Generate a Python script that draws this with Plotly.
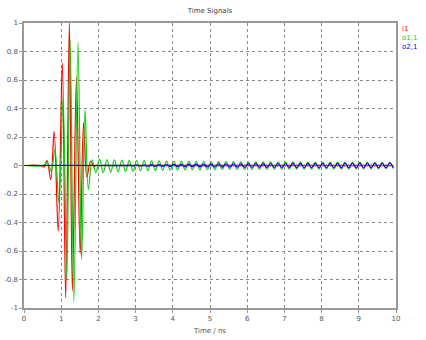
import plotly.graph_objects as go

# ---- data ----
series_names = ["i1", "o1,1", "o2,1"]
series_colors = ["#ff0000", "#11cc11", "#0000ff"]

# pulse region: times (ns) and peak values
red_pulse_t = [0.0, 0.43, 0.54, 0.62, 0.72, 0.81, 0.92, 1.03, 1.12, 1.22, 1.30, 1.41, 1.51, 1.60, 1.69, 1.79, 1.88]
red_pulse_v = [0.0, 0.0, -0.01, 0.035, -0.10, 0.24, -0.46, 0.72, -0.93, 1.00, -0.88, 0.62, -0.62, 0.30, -0.08, 0.03, -0.01]

green_pulse_t = [0.0, 0.52, 0.63, 0.73, 0.83, 0.94, 1.05, 1.15, 1.24, 1.34, 1.45, 1.55, 1.64, 1.73, 1.83]
green_pulse_v = [0.0, 0.0, 0.02, -0.04, 0.11, -0.26, 0.47, -0.80, 0.88, -0.96, 0.87, -0.66, 0.39, -0.17, 0.04]

blue_pulse_t = [0.0, 1.83]
blue_pulse_v = [0.0, 0.0]

# ringing tail: times (ns) shared by the three signals
tail_t = [1.93, 2.03, 2.13, 2.23, 2.33, 2.43, 2.53, 2.63, 2.73, 2.83,
          2.93, 3.03, 3.13, 3.23, 3.33, 3.43, 3.53, 3.63, 3.73, 3.83,
          3.93, 4.03, 4.13, 4.23, 4.33, 4.43, 4.53, 4.63, 4.73, 4.83,
          4.93, 5.03, 5.13, 5.23, 5.33, 5.43, 5.53, 5.63, 5.73, 5.83,
          5.93, 6.03, 6.13, 6.23, 6.33, 6.43, 6.53, 6.63, 6.73, 6.83,
          6.93, 7.03, 7.13, 7.23, 7.33, 7.43, 7.53, 7.63, 7.73, 7.83,
          7.93, 8.03, 8.13, 8.23, 8.33, 8.43, 8.53, 8.63, 8.73, 8.83,
          8.93, 9.03, 9.13, 9.23, 9.33, 9.43, 9.53, 9.63, 9.73, 9.83,
          9.93]

green_tail_v = [-0.05, 0.045, -0.05, 0.042, -0.048, 0.04, -0.045, 0.038, -0.042, 0.036,
                -0.04, 0.035, -0.038, 0.034, -0.036, 0.033, -0.035, 0.032, -0.034, 0.031,
                -0.033, 0.03, -0.032, 0.03, -0.031, 0.029, -0.03, 0.029, -0.03, 0.028,
                -0.029, 0.028, -0.029, 0.027, -0.028, 0.027, -0.028, 0.027, -0.028, 0.026,
                -0.027, 0.026, -0.027, 0.026, -0.027, 0.026, -0.026, 0.025, -0.026, 0.025,
                -0.026, 0.025, -0.026, 0.025, -0.025, 0.025, -0.025, 0.024, -0.025, 0.024,
                -0.025, 0.024, -0.024, 0.024, -0.024, 0.023, -0.024, 0.023, -0.024, 0.023,
                -0.023, 0.023, -0.023, 0.022, -0.023, 0.022, -0.023, 0.022, -0.022, 0.022,
                -0.022]

blue_tail_v = [-0.001, 0.001, -0.001, 0.002, -0.002, 0.002, -0.003, 0.003, -0.003, 0.004,
               -0.004, 0.004, -0.005, 0.005, -0.005, 0.006, -0.006, 0.006, -0.007, 0.007,
               -0.007, 0.008, -0.008, 0.008, -0.009, 0.009, -0.009, 0.01, -0.01, 0.01,
               -0.01, 0.011, -0.011, 0.011, -0.011, 0.012, -0.012, 0.012, -0.012, 0.012,
               -0.013, 0.013, -0.013, 0.013, -0.013, 0.013, -0.014, 0.014, -0.014, 0.014,
               -0.014, 0.014, -0.014, 0.015, -0.015, 0.015, -0.015, 0.015, -0.015, 0.015,
               -0.015, 0.015, -0.015, 0.015, -0.015, 0.015, -0.016, 0.016, -0.016, 0.016,
               -0.016, 0.016, -0.016, 0.016, -0.016, 0.016, -0.016, 0.016, -0.016, 0.016,
               -0.016]

red_tail_v = [0.003, -0.003, 0.003, -0.003, 0.003, -0.003, 0.003, -0.003, 0.003, -0.003,
              0.003, -0.003, 0.003, -0.003, 0.003, -0.003, 0.003, -0.003, 0.003, -0.003,
              0.003, -0.003, 0.003, -0.003, 0.003, -0.003, 0.003, -0.003, 0.003, -0.003,
              0.002, -0.002, 0.002, -0.002, 0.002, -0.002, 0.002, -0.002, 0.002, -0.002,
              0.002, -0.002, 0.002, -0.002, 0.002, -0.002, 0.002, -0.002, 0.002, -0.002,
              0.002, -0.002, 0.002, -0.002, 0.002, -0.002, 0.002, -0.002, 0.002, -0.002,
              0.002, -0.002, 0.002, -0.002, 0.002, -0.002, 0.002, -0.002, 0.002, -0.002,
              0.002, -0.002, 0.002, -0.002, 0.002, -0.002, 0.002, -0.002, 0.002, -0.002,
              0.002]

x_tickvals = [0, 1, 2, 3, 4, 5, 6, 7, 8, 9, 10]
x_ticktext = ["0", "1", "2", "3", "4", "5", "6", "7", "8", "9", "10"]
y_tickvals = [1, 0.8, 0.6, 0.4, 0.2, 0, -0.2, -0.4, -0.6, -0.8, -1]
y_ticktext = ["1", "0.8", "0.6", "0.4", "0.2", "0", "-0.2", "-0.4", "-0.6", "-0.8", "-1"]

# ---- figure ----
series = {
    "i1": (red_pulse_t + tail_t, red_pulse_v + red_tail_v),
    "o1,1": (green_pulse_t + tail_t, green_pulse_v + green_tail_v),
    "o2,1": (blue_pulse_t + tail_t, blue_pulse_v + blue_tail_v),
}

fig = go.Figure()
draw_order = ["i1", "o1,1", "o2,1"]
for name in draw_order:
    idx = series_names.index(name)
    t, v = series[name]
    fig.add_trace(go.Scatter(
        x=t, y=v, mode="lines", name=name,
        line=dict(color=series_colors[idx], width=1.2, shape="spline", smoothing=1.0),
        showlegend=False,
    ))

font = dict(family="DejaVu Sans", size=7, color="#555555")

for i, name in enumerate(series_names):
    fig.add_annotation(
        x=1.012, y=1.0 - i * 0.031, xref="paper", yref="paper",
        xanchor="left", yanchor="top", showarrow=False,
        text=name, font=dict(family="DejaVu Sans", size=7, color=series_colors[i]),
    )

axis_common = dict(
    showgrid=True, gridcolor="#888888", griddash="dot", gridwidth=1,
    showline=True, linecolor="#999999", linewidth=1.5, mirror=True,
    ticks="outside", ticklen=3, tickcolor="#999999", tickfont=font,
    zeroline=False, automargin=False,
)

fig.update_layout(
    width=426, height=340,
    margin=dict(l=24, r=30, t=23, b=32),
    paper_bgcolor="white", plot_bgcolor="white",
    title=dict(text="Time Signals", x=0.493, xanchor="center", y=0.975, yanchor="top",
               font=dict(family="DejaVu Sans", size=7, color="#444444")),
    xaxis=dict(range=[0, 10], tickvals=x_tickvals, ticktext=x_ticktext,
               title=dict(text="Time / ns", font=font, standoff=6), **axis_common),
    yaxis=dict(range=[-1, 1], tickvals=y_tickvals, ticktext=y_ticktext, **axis_common),
)

fig.write_html("out.html")
